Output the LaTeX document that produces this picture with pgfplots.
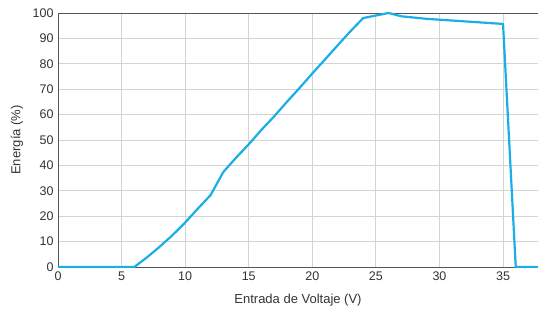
\documentclass[border=0pt]{standalone}
\usepackage{pgfplots}
\pgfplotsset{compat=1.18}
\usepackage{fontspec}
\setmainfont{Liberation Sans}
\definecolor{linec}{HTML}{1AAEE6}
\definecolor{gridc}{HTML}{D4D4D4}
\definecolor{axc}{HTML}{555555}
\definecolor{txt}{HTML}{333333}
\begin{document}
\begin{tikzpicture}
\begin{axis}[
  scale only axis,
  width=480pt, height=254pt,
  xmin=0, xmax=37.75, ymin=0, ymax=100,
  xtick={0,5,...,35}, ytick={0,10,...,100},
  grid=major,
  major grid style={gridc, line width=0.8pt},
  major tick length=0pt,
  separate axis lines,
  axis x line*=box, axis y line*=left,
  x axis line style={axc, line width=0.9pt, -},
  y axis line style={axc, line width=0.9pt, -},
  /pgf/number format/assume math mode=true,
  tick label style={font=\fontsize{12.5}{14}\selectfont, text=txt},
  xticklabel style={yshift=-1pt},
  yticklabel style={xshift=-1pt},
  xlabel={Entrada de Voltaje (V)},
  ylabel={Energía (\%)},
  every axis x label/.style={at={(axis description cs:0.5,-0.13)}, anchor=center, font=\fontsize{13}{15}\selectfont, text=txt},
  every axis y label/.style={at={(axis description cs:-0.0854,0.5)}, rotate=90, anchor=center, font=\fontsize{13}{15}\selectfont, text=txt},
  clip=true,
]
\addplot[linec, line width=2.2pt, line join=round] coordinates {
(0,0) (6,0) (7,3.8) (8,8) (9,12.5) (10,17.5) (11,23) (12,28.3) (13,37.4) (14,43) (15,48.3) (16,54) (17,59.3) (18,65) (19,70.5) (20,76.2) (21,81.7) (22,87.3) (23,92.8) (24,98) (26,100) (27,98.7) (29,97.7) (35,95.7) (36,0) (38,0)
};
\end{axis}
\pgfresetboundingbox
\path (-58pt,-44pt) rectangle (480pt,267pt);
\end{tikzpicture}
\end{document}
